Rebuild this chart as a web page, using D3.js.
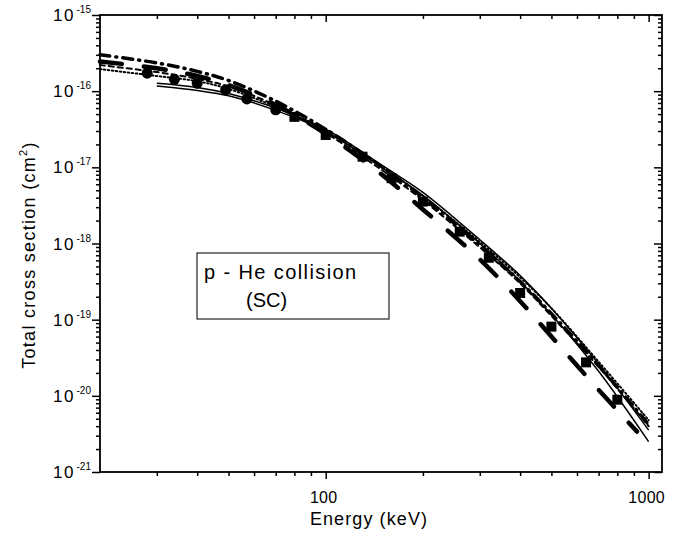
<!DOCTYPE html>
<html>
<head>
<meta charset="utf-8">
<script src="https://cdnjs.cloudflare.com/ajax/libs/d3/7.8.5/d3.min.js"></script>
<style>
  body { margin: 0; background: #fff; }
  svg { font-family: "Liberation Sans", Arial, sans-serif; }
  .axis path { display: none; }
  .axis line { stroke: #000; stroke-width: 1.5; }
  .axis text { display: none; }
</style>
</head>
<body>
<svg id="chart" width="693" height="533"></svg>
<script>
// energies in keV, cross sections in cm^2
const energies = [20, 30, 40, 50, 70, 100, 150, 200, 300, 400, 500, 700, 1000];
const energiesFrom30 = [30, 40, 50, 70, 100, 150, 200, 300, 400, 500, 700, 1000];
const thickDashEnergies = [20, 30, 40, 50, 70, 100, 150, 200, 300, 400, 500, 700, 920];

const solidUpper = [1.27e-16, 1.12e-16, 9.3e-17, 6.0e-17, 3.16e-17, 1.05e-17, 4.7e-18, 1.12e-18, 3.8e-19, 1.41e-19, 2.63e-20, 3.55e-21];
const solidLower = [1.17e-16, 1.02e-16, 8.7e-17, 5.6e-17, 2.95e-17, 9.8e-18, 4.3e-18, 1.0e-18, 3.2e-19, 1.17e-19, 2.1e-20, 2.5e-21];
const dotted = [1.95e-16, 1.58e-16, 1.35e-16, 1.07e-16, 6.2e-17, 2.95e-17, 1.0e-17, 4.2e-18, 1.05e-18, 3.6e-19, 1.41e-19, 2.8e-20, 4.8e-21];
const dashDot = [3.0e-16, 2.35e-16, 1.82e-16, 1.38e-16, 7.4e-17, 3.16e-17, 1.0e-17, 4.0e-18, 9.5e-19, 3.16e-19, 1.2e-19, 2.5e-20, 4.2e-21];
const thickDash = [2.45e-16, 2.0e-16, 1.58e-16, 1.2e-16, 6.6e-17, 2.75e-17, 7.9e-18, 2.8e-18, 6.2e-19, 1.75e-19, 6.0e-20, 1.2e-20, 3.4e-21];
const shortDash = [2.2e-16, 1.78e-16, 1.45e-16, 1.15e-16, 6.5e-17, 2.82e-17, 9.1e-18, 3.7e-18, 8.9e-19, 3.0e-19, 1.12e-19, 2.4e-20, 4.0e-21];

const circleE = [28, 34, 40, 49, 57, 70];
const circleS = [1.72e-16, 1.43e-16, 1.27e-16, 1.04e-16, 7.9e-17, 5.7e-17];
const squareE = [80, 100, 130, 160, 200, 260, 320, 400, 500, 640, 800];
const squareS = [4.6e-17, 2.66e-17, 1.38e-17, 7.2e-18, 3.55e-18, 1.43e-18, 6.5e-19, 2.24e-19, 8.1e-20, 2.75e-20, 8.9e-21];

const xMajor = [100, 1000];
const xMinor = [30, 40, 50, 60, 70, 80, 90, 200, 300, 400, 500, 600, 700, 800, 900];
const yExponents = [-15, -16, -17, -18, -19, -20, -21];

const plotLeft = 100, plotRight = 662, plotTop = 15, plotBottom = 472;

const svg = d3.select('#chart');

const x = d3.scaleLog().domain([20, 1100]).range([plotLeft, plotRight]);
const y = d3.scaleLog().domain([1e-21, 1e-15]).range([plotBottom, plotTop]);

const yMajor = yExponents.map(e => Math.pow(10, e));
const yMinor = [];
for (let d = -21; d < -15; d++) {
  for (let k = 2; k <= 9; k++) yMinor.push(k * Math.pow(10, d));
}

// axes: bottom/left ticks outward, top/right ticks inward (same direction)
svg.append('g').attr('class', 'axis').attr('transform', 'translate(0,' + plotBottom + ')')
  .call(d3.axisBottom(x).tickValues(xMinor).tickSize(4));
svg.append('g').attr('class', 'axis').attr('transform', 'translate(0,' + plotBottom + ')')
  .call(d3.axisBottom(x).tickValues(xMajor).tickSize(7));
svg.append('g').attr('class', 'axis').attr('transform', 'translate(0,' + plotTop + ')')
  .call(d3.axisTop(x).tickValues(xMinor).tickSize(-4));
svg.append('g').attr('class', 'axis').attr('transform', 'translate(0,' + plotTop + ')')
  .call(d3.axisTop(x).tickValues(xMajor).tickSize(-7));

svg.append('g').attr('class', 'axis').attr('transform', 'translate(' + plotLeft + ',0)')
  .call(d3.axisLeft(y).tickValues(yMinor).tickSize(4));
svg.append('g').attr('class', 'axis').attr('transform', 'translate(' + plotLeft + ',0)')
  .call(d3.axisLeft(y).tickValues(yMajor).tickSize(8));
svg.append('g').attr('class', 'axis').attr('transform', 'translate(' + plotRight + ',0)')
  .call(d3.axisRight(y).tickValues(yMinor).tickSize(-4));
svg.append('g').attr('class', 'axis').attr('transform', 'translate(' + plotRight + ',0)')
  .call(d3.axisRight(y).tickValues(yMajor).tickSize(-8));

svg.append('rect')
  .attr('x', plotLeft).attr('y', plotTop)
  .attr('width', plotRight - plotLeft).attr('height', plotBottom - plotTop)
  .style('fill', 'none').style('stroke', '#000').style('stroke-width', 1.8);

// tick labels
svg.selectAll('.xlab').data(xMajor).enter().append('text')
  .attr('x', d => x(d) - 2).attr('y', plotBottom + 31)
  .attr('text-anchor', 'middle')
  .style('font-size', '16px')
  .style('letter-spacing', '0.3px')
  .text(d => d);

yExponents.forEach(e => {
  const v = Math.pow(10, e);
  svg.append('text')
    .attr('x', 53).attr('y', y(v) + 6)
    .style('font-size', '17px')
    .style('letter-spacing', '1.5px')
    .text('10');
  svg.append('text')
    .attr('x', 76.5).attr('y', y(v) - 2)
    .style('font-size', '10px')
    .text(e);
});

// axis titles
svg.append('text')
  .attr('x', 369).attr('y', 525)
  .attr('text-anchor', 'middle')
  .style('font-size', '18px')
  .style('letter-spacing', '1.1px')
  .text('Energy (keV)');

const yTitle = svg.append('text')
  .attr('transform', 'translate(35,255) rotate(-90)')
  .attr('text-anchor', 'middle')
  .style('font-size', '18px')
  .style('letter-spacing', '1.3px');
yTitle.append('tspan').text('Total cross section (cm');
yTitle.append('tspan').attr('dy', -8).style('font-size', '11px').text('2');
yTitle.append('tspan').attr('dy', 8).text(')');

// curves
const line = d3.line()
  .x(d => x(d[0]))
  .y(d => y(d[1]))
  .curve(d3.curveCatmullRom);

const curves = [
  {e: energiesFrom30, s: solidUpper, w: 1.5, dash: null},
  {e: energiesFrom30, s: solidLower, w: 1.5, dash: null},
  {e: energies, s: dotted, w: 2, dash: '1.5,2.5'},
  {e: energies, s: shortDash, w: 2, dash: '5,4'},
  {e: energies, s: dashDot, w: 3.5, dash: '10,6,1,6'},
  {e: thickDashEnergies, s: thickDash, w: 4.5, dash: '22,22'}
];

curves.forEach(c => {
  svg.append('path')
    .datum(c.e.map((d, i) => [d, c.s[i]]))
    .attr('d', line)
    .style('fill', 'none')
    .style('stroke', '#000')
    .style('stroke-width', c.w)
    .style('stroke-linecap', c.dash ? 'round' : 'butt')
    .style('stroke-dasharray', c.dash);
});

// data points
svg.selectAll('.circ').data(circleE).enter().append('circle')
  .attr('cx', d => x(d))
  .attr('cy', (d, i) => y(circleS[i]))
  .attr('r', 5.5)
  .style('fill', '#000');

svg.selectAll('.sq').data(squareE).enter().append('rect')
  .attr('x', d => x(d) - 5)
  .attr('y', (d, i) => y(squareS[i]) - 5)
  .attr('width', 10).attr('height', 10)
  .style('fill', '#000');

// label box
svg.append('rect')
  .attr('x', 197).attr('y', 253)
  .attr('width', 192).attr('height', 66)
  .style('fill', '#fff')
  .style('stroke', '#222')
  .style('stroke-width', 1.2);

svg.append('text')
  .attr('x', 204).attr('y', 279)
  .style('font-size', '20px')
  .style('letter-spacing', '1.4px')
  .text('p - He collision');

svg.append('text')
  .attr('x', 246).attr('y', 307)
  .style('font-size', '20px')
  .text('(SC)');
</script>
</body>
</html>
